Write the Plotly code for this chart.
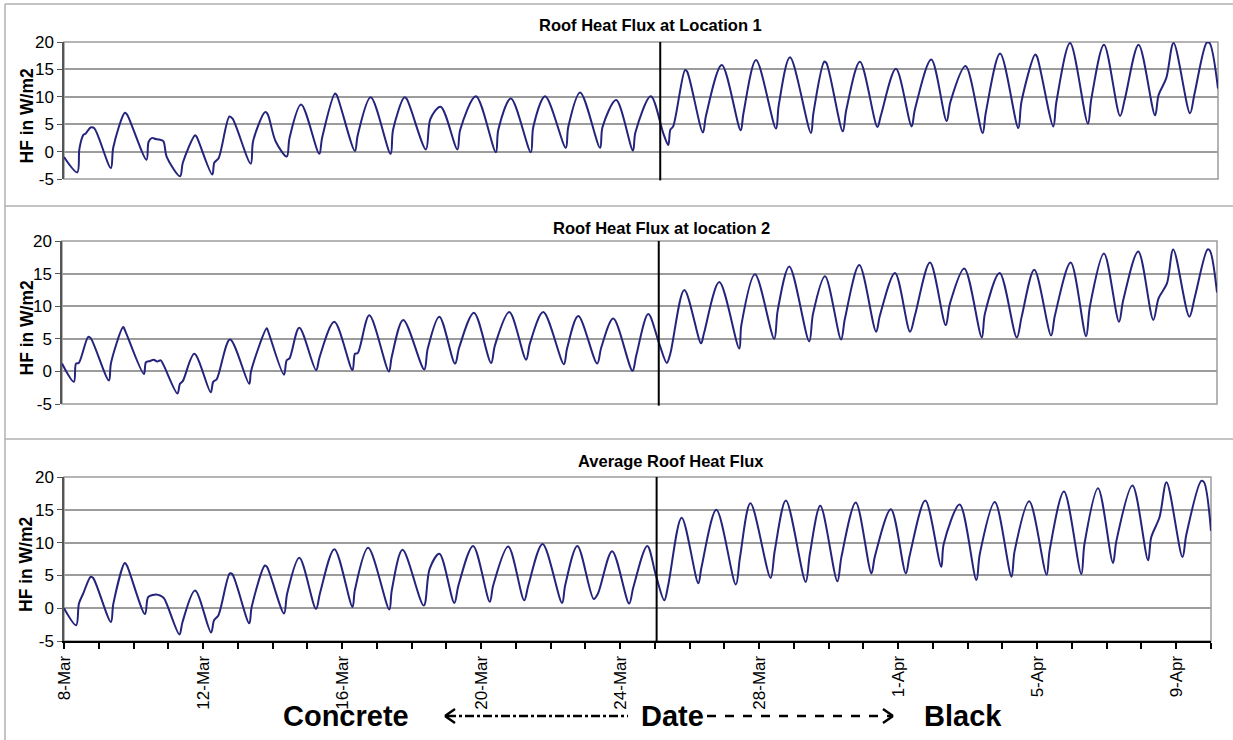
import pandas as pd
import plotly.graph_objects as go

# ---------------- data ----------------
start_date = "2007-03-08"
end_date = "2007-04-10"
switch_day = 17.05   # concrete -> black change (days after 8-Mar)

# days after 8-Mar 00:00, heat flux in W/m2
loc1_day = [0.00, 0.38, 0.44, 0.55, 0.62, 0.76, 0.86, 1.34, 1.41, 1.74, 1.80, 2.36, 2.42, 2.52, 2.62, 2.72, 2.84, 2.94,
            3.32, 3.40, 3.75, 3.80, 4.24, 4.30, 4.42, 4.73, 4.82, 5.34, 5.41, 5.75, 5.82, 6.05, 6.37, 6.45, 6.78,
            7.30, 7.38, 7.75, 7.80, 8.32, 8.40, 8.77, 9.34, 9.41, 9.73, 9.80, 10.35, 10.48, 10.77, 11.25, 11.33,
            11.78, 12.35, 12.42, 12.78, 13.35, 13.42, 13.76, 14.35, 14.42, 14.76, 15.33, 15.40, 15.79, 16.27,
            16.34, 16.78, 17.14, 17.28, 17.34, 17.42, 17.76, 17.82, 18.27, 18.36, 18.81, 19.35, 19.43, 19.79,
            20.36, 20.44, 20.76, 21.36, 21.43, 21.74, 21.80, 22.27, 22.37, 22.76, 23.26, 23.36, 23.79, 24.24,
            24.33, 24.80, 25.24, 25.35, 25.78, 26.27, 26.36, 26.77, 27.29, 27.38, 27.77, 27.82, 28.29, 28.38,
            28.77, 29.28, 29.38, 29.74, 30.20, 30.34, 30.73, 31.20, 31.30, 31.52, 31.73, 32.20, 32.33, 32.68,
            32.76, 33.00]
loc1_hf = [-1.0, -3.8, 0.5, 3.0, 3.3, 4.4, 4.3, -3.0, 0.8, 7.1, 6.8, -1.5, 1.8, 2.5, 2.3, 2.2, 1.9, -1.0,
           -4.5, -2.0, 3.0, 2.6, -4.2, -2.0, -1.2, 6.4, 6.0, -2.2, 2.0, 7.2, 6.9, 1.9, -0.9, 2.5, 8.6,
           -0.4, 2.5, 10.6, 10.3, 0.1, 3.0, 9.9, -0.4, 4.0, 9.9, 9.6, 0.4, 6.0, 8.2, 0.4, 4.0,
           10.1, -0.1, 4.0, 9.7, -0.1, 4.5, 10.1, 0.7, 4.5, 10.8, 0.7, 4.5, 9.4, 0.2,
           3.5, 10.1, 3.3, 1.2, 4.0, 4.6, 14.9, 14.6, 3.5, 6.6, 15.8, 3.9, 7.0, 16.7,
           4.2, 8.5, 17.2, 3.4, 7.0, 16.4, 16.2, 3.7, 7.6, 16.4, 4.5, 6.6, 15.1, 4.6,
           7.6, 16.8, 5.6, 9.1, 15.6, 3.4, 7.1, 17.9, 4.3, 9.1, 17.7, 17.4, 4.6, 9.1,
           19.8, 5.1, 9.7, 19.5, 6.5, 9.7, 19.5, 6.6, 10.3, 13.4, 19.8, 7.0, 10.6, 19.9,
           19.8, 11.5]

loc2_day = [0.00, 0.34, 0.40, 0.48, 0.75, 0.82, 1.34, 1.40, 1.75, 1.80, 2.34, 2.40, 2.52, 2.62, 2.72, 2.82, 2.90,
            3.30, 3.37, 3.45, 3.78, 4.25, 4.32, 4.42, 4.80, 5.35, 5.40, 5.85, 5.88, 6.34, 6.42, 6.50, 6.78,
            7.26, 7.36, 7.78, 8.30, 8.37, 8.45, 8.78, 9.34, 9.42, 9.75, 10.35, 10.45, 10.78, 11.23, 11.35, 11.77,
            12.26, 12.37, 12.78, 13.26, 13.37, 13.75, 14.34, 14.43, 14.75, 15.29, 15.41, 15.75, 16.30, 16.41,
            16.75, 17.06, 17.28, 17.38, 17.78, 18.26, 18.34, 18.78, 19.35, 19.41, 19.80, 20.35, 20.45, 20.78,
            21.35, 21.46, 21.80, 22.26, 22.37, 22.78, 23.26, 23.37, 23.80, 24.23, 24.37, 24.80, 25.25, 25.37,
            25.78, 26.28, 26.37, 26.79, 27.28, 27.42, 27.78, 28.26, 28.37, 28.82, 29.26, 29.37, 29.77, 30.20,
            30.32, 30.75, 31.18, 31.33, 31.57, 31.75, 32.21, 32.37, 32.73, 32.80, 33.00]
loc2_hf = [1.2, -1.6, 1.2, 1.3, 5.3, 5.1, -1.4, 1.3, 6.8, 6.3, -0.4, 1.4, 1.6, 1.8, 1.5, 1.7, 1.0,
           -3.4, -1.9, -1.5, 2.7, -3.2, -1.6, -1.2, 4.9, -1.9, 0.0, 6.6, 6.3, -0.5, 1.7, 2.0, 6.7,
           0.2, 2.2, 7.6, 0.2, 2.7, 2.8, 8.6, 0.0, 2.2, 7.9, 0.3, 3.5, 8.4, 1.2, 3.7, 9.0,
           1.3, 4.0, 9.1, 1.8, 4.3, 9.1, 1.1, 3.5, 8.5, 1.2, 3.7, 8.1, 0.1, 2.5,
           8.8, 4.3, 1.3, 2.7, 12.5, 4.3, 5.8, 13.7, 3.5, 7.1, 14.9, 5.0, 9.4, 16.1,
           4.6, 8.9, 14.6, 4.9, 8.1, 16.3, 6.1, 8.6, 15.1, 6.1, 8.6, 16.7, 7.1, 10.4,
           15.8, 5.2, 8.9, 15.1, 5.2, 8.4, 15.6, 5.5, 8.6, 16.7, 5.4, 10.0, 18.1, 7.6,
           10.9, 18.4, 7.9, 11.2, 13.5, 18.7, 8.4, 11.5, 18.7, 18.5, 12.1]

avg_day = [0.00, 0.35, 0.43, 0.55, 0.77, 0.84, 1.35, 1.42, 1.75, 1.81, 2.33, 2.42, 2.55, 2.65, 2.78, 2.88,
           3.32, 3.41, 3.77, 4.23, 4.32, 4.44, 4.77, 4.84, 5.33, 5.40, 5.78, 5.84, 6.33, 6.42, 6.77,
           7.25, 7.37, 7.78, 8.30, 8.37, 8.75, 9.36, 9.43, 9.74, 10.35, 10.52, 10.80, 11.23, 11.35, 11.77,
           12.25, 12.35, 12.78, 13.24, 13.36, 13.77, 14.33, 14.42, 14.77, 15.24, 15.36, 15.77, 16.26, 16.38,
           16.78, 17.03, 17.27, 17.39, 17.77, 18.25, 18.34, 18.77, 19.33, 19.45, 19.75, 20.33, 20.45, 20.77,
           21.34, 21.46, 21.76, 22.25, 22.37, 22.78, 23.23, 23.33, 23.79, 24.22, 24.33, 24.78, 25.24, 25.31,
           25.77, 26.25, 26.35, 26.78, 27.26, 27.35, 27.77, 28.27, 28.36, 28.77, 29.27, 29.36, 29.75, 30.18,
           30.28, 30.74, 31.19, 31.28, 31.52, 31.72, 32.18, 32.29, 32.72, 32.80, 33.00]
avg_hf = [0.0, -2.6, 0.7, 2.2, 4.8, 4.6, -2.1, 0.7, 6.9, 6.5, -0.9, 1.7, 2.0, 2.1, 1.9, 1.5,
          -4.0, -2.1, 2.7, -3.7, -1.8, -1.1, 5.3, 5.2, -2.3, 0.2, 6.5, 6.3, -0.8, 2.2, 7.7,
          -0.1, 2.4, 9.0, 0.2, 2.8, 9.2, -0.2, 2.7, 8.9, 0.4, 6.0, 8.3, 0.8, 3.5, 9.5,
          1.0, 3.5, 9.4, 1.2, 3.5, 9.8, 0.8, 3.5, 9.5, 1.4, 2.2, 8.7, 0.7, 3.2,
          9.5, 5.0, 1.2, 3.7, 13.8, 3.8, 6.2, 15.0, 3.6, 7.8, 16.0, 4.6, 8.8, 16.4,
          4.0, 8.3, 15.6, 4.1, 7.9, 16.1, 5.3, 7.9, 15.1, 5.3, 8.0, 16.4, 6.3, 9.8,
          15.8, 4.3, 8.3, 16.2, 4.8, 8.7, 16.3, 5.1, 8.9, 17.8, 5.2, 9.8, 18.3, 6.9,
          10.3, 18.7, 7.3, 10.8, 13.9, 19.2, 7.8, 11.2, 19.4, 19.2, 11.8]

panel_titles = ["Roof Heat Flux at Location 1", "Roof Heat Flux at location 2", "Average Roof Heat Flux"]
y_title = "HF in W/m2"
y_ticks = [-5, 0, 5, 10, 15, 20]
date_tick_days = [0, 4, 8, 12, 16, 20, 24, 28, 32]
bottom_words = ["Concrete", "Date", "Black"]

# ---------------- figure ----------------
base = pd.Timestamp(start_date)
def to_dates(days):
    return [base + pd.to_timedelta(d, unit="D") for d in days]

FONT = "Liberation Sans, Arial, sans-serif"
LINE = "#24247c"
GRID = "#9c9c9c"
W, H = 1233, 740

fig = go.Figure()
series = [(loc1_day, loc1_hf), (loc2_day, loc2_hf), (avg_day, avg_hf)]
axes = [("x", "y"), ("x2", "y2"), ("x3", "y3")]
for (d, v), (xa, ya), name in zip(series, axes, panel_titles):
    fig.add_trace(go.Scatter(x=to_dates(d), y=v, mode="lines", name=name,
                             line=dict(color=LINE, width=2, shape="spline", smoothing=0.9),
                             xaxis=xa, yaxis=ya, showlegend=False, hoverinfo="x+y"))

# pixel geometry of the plot areas (left, right, top, bottom)
boxes = [(64, 1218, 42, 179), (62, 1217, 241, 404), (64, 1211, 477, 641)]

def xd(px):
    return px / W
def yd(py):
    return 1 - py / H

x_range = [pd.Timestamp(start_date), pd.Timestamp(end_date)]
layout = dict(width=W, height=H, margin=dict(l=0, r=0, t=0, b=0, pad=0, autoexpand=False), autosize=False,
              paper_bgcolor="white", plot_bgcolor="white",
              font=dict(family=FONT, color="black"), showlegend=False)

for i, (l, r, t, b) in enumerate(boxes):
    sfx = "" if i == 0 else str(i + 1)
    xa = dict(domain=[xd(l), xd(r)], range=x_range, anchor="y" + sfx, type="date",
              showgrid=False, zeroline=False, automargin=False)
    if i < 2:
        xa.update(showticklabels=False, showline=False, ticks="")
    else:
        xa.update(showline=True, linecolor="black", linewidth=2, ticks="outside", ticklen=6,
                  tickwidth=2, tickcolor="black", tickmode="array",
                  tickvals=to_dates(date_tick_days),
                  ticktext=[(base + pd.to_timedelta(d, unit="D")).strftime("%-d-%b") for d in date_tick_days],
                  tickangle=-90, tickfont=dict(size=17, family=FONT),
                  minor=dict(tickmode="linear", tick0=start_date, dtick=86400000, ticks="outside",
                             ticklen=6, tickwidth=2, tickcolor="black", showgrid=False))
    ya = dict(domain=[yd(b), yd(t)], range=[-5, 20], anchor="x" + sfx, tickmode="array",
              tickvals=y_ticks, ticktext=[str(v) for v in y_ticks], automargin=False,
              showgrid=True, gridcolor=GRID, gridwidth=1.5, zeroline=False,
              showline=True, linecolor="#555555", linewidth=1.5, ticks="outside", ticklen=5,
              tickcolor="#555555", tickfont=dict(size=17, family=FONT))
    layout["xaxis" + sfx] = xa
    layout["yaxis" + sfx] = ya

fig.update_layout(**layout)

shapes = []
annotations = []
title_pos = [(650, 25), (661, 228), (671, 461)]
for i, (l, r, t, b) in enumerate(boxes):
    sfx = "" if i == 0 else str(i + 1)
    # plot-area border
    shapes.append(dict(type="rect", xref="x%s domain" % sfx, yref="y%s domain" % sfx,
                       x0=0, x1=1, y0=0, y1=1, line=dict(color=GRID, width=1.5), layer="below"))
    # change-over line
    sw = base + pd.to_timedelta(switch_day, unit="D")
    shapes.append(dict(type="line", xref="x" + sfx, yref="y%s domain" % sfx, x0=sw, x1=sw,
                       y0=-0.01, y1=1, line=dict(color="black", width=2)))
    tx, ty = title_pos[i]
    annotations.append(dict(text="<b>%s</b>" % panel_titles[i], xref="paper", yref="paper",
                            x=xd(tx), y=yd(ty), showarrow=False, font=dict(size=16.5, family=FONT),
                            xanchor="center", yanchor="middle"))
    annotations.append(dict(text="<b>%s</b>" % y_title, xref="paper", yref="paper", textangle=-90,
                            x=xd(26), y=yd((t + b) / 2 + 5), showarrow=False,
                            font=dict(size=17.5, family=FONT), xanchor="center", yanchor="middle"))

# outer chart-area borders
BORDER = "#b0b0b0"
for py in (4, 206, 439):
    shapes.append(dict(type="line", xref="paper", yref="paper", x0=xd(5), x1=1, y0=yd(py), y1=yd(py),
                       line=dict(color=BORDER, width=1.5)))
shapes.append(dict(type="line", xref="paper", yref="paper", x0=xd(5), x1=xd(5), y0=yd(4), y1=0,
                   line=dict(color=BORDER, width=1.5)))

# bottom "Concrete <-.-.- Date ----> Black"
ay = yd(716)
for word, cx in zip(bottom_words, (346, 672, 963)):
    annotations.append(dict(text="<b>%s</b>" % word, xref="paper", yref="paper", x=xd(cx), y=ay,
                            showarrow=False, font=dict(size=29, family=FONT),
                            xanchor="center", yanchor="middle"))
shapes.append(dict(type="line", xref="paper", yref="paper", x0=xd(447), x1=xd(628), y0=ay, y1=ay,
                   line=dict(color="black", width=2.5, dash="dashdot")))
shapes.append(dict(type="line", xref="paper", yref="paper", x0=xd(707), x1=xd(891), y0=ay, y1=ay,
                   line=dict(color="black", width=2.5, dash="dash")))
# arrow heads
for x0, x1 in ((455, 445), (883, 893)):
    shapes.append(dict(type="line", xref="paper", yref="paper", x0=xd(x0), x1=xd(x1),
                       y0=yd(709), y1=ay, line=dict(color="black", width=2.5)))
    shapes.append(dict(type="line", xref="paper", yref="paper", x0=xd(x0), x1=xd(x1),
                       y0=yd(723), y1=ay, line=dict(color="black", width=2.5)))

fig.update_layout(shapes=shapes, annotations=annotations)
fig.write_html("out.html", config={"displayModeBar": False},
               post_script="document.body.style.margin='0';document.body.style.padding='0';")
